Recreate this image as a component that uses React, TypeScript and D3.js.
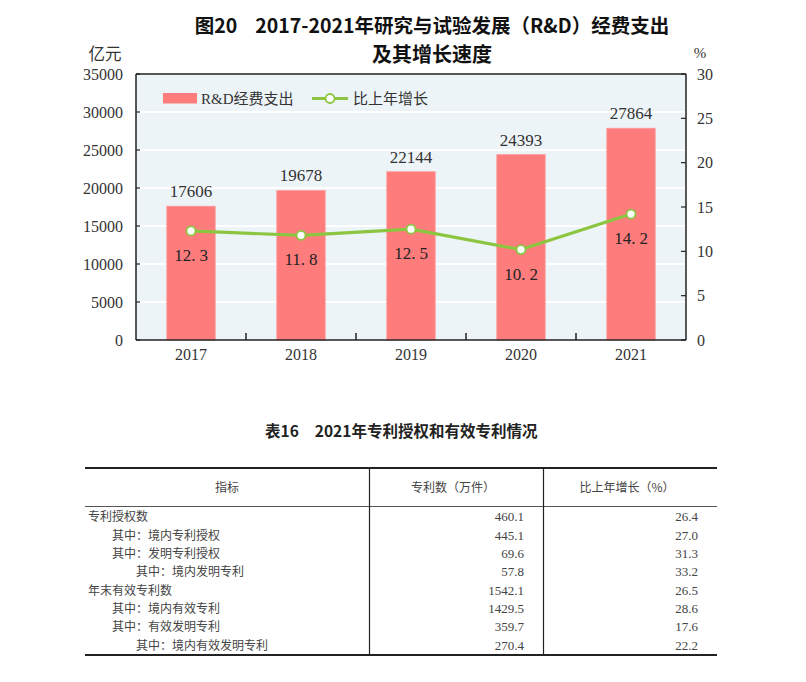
import React from 'react';
import * as d3 from 'd3';

const years = ['2017', '2018', '2019', '2020', '2021'];
const rdSpend = [17606, 19678, 22144, 24393, 27864];
const growth = [12.3, 11.8, 12.5, 10.2, 14.2];
const leftTicks = [0, 5000, 10000, 15000, 20000, 25000, 30000, 35000];
const rightTicks = [0, 5, 10, 15, 20, 25, 30];

const rowLabels = [
  '专利授权数',
  '其中：境内专利授权',
  '其中：发明专利授权',
  '其中：境内发明专利',
  '年末有效专利数',
  '其中：境内有效专利',
  '其中：有效发明专利',
  '其中：境内有效发明专利',
];
const rowLevels = [0, 1, 1, 2, 0, 1, 1, 2];
const patentCounts = [460.1, 445.1, 69.6, 57.8, 1542.1, 1429.5, 359.7, 270.4];
const patentGrowth = [26.4, 27.0, 31.3, 33.2, 26.5, 28.6, 17.6, 22.2];
const tableHeaders = ['指标', '专利数（万件）', '比上年增长（%）'];

const NUM_FONT = '"Liberation Serif", "Noto Sans CJK SC", serif';
const CJK_FONT = '"Noto Sans CJK SC", sans-serif';
const MIX_FONT = '"Liberation Serif", "Noto Sans CJK SC", serif';

export default function App() {
  const left = 136, right = 686, top = 74, bottom = 340;
  const x = d3.scaleBand<string>().domain(years).range([left, right]).padding(0);
  const yL = d3.scaleLinear().domain([0, 35000]).range([bottom, top]);
  const yR = d3.scaleLinear().domain([0, 30]).range([bottom, top]);
  const barW = x.step() * 0.44;
  const cx = (yr: string) => (x(yr) as number) + x.bandwidth() / 2;

  const line = d3
    .line<number>()
    .x((_, i) => cx(years[i]))
    .y((d) => yR(d));

  const green = '#8cc641';
  const barColor = '#ff7c7d';
  const axisColor = '#222';
  const textColor = '#333';

  // table geometry
  const tLeft = 85, tRight = 717;
  const col1 = 369.5, col2 = 543.5;
  const tTop = 468, headBottom = 506.5, tBottom = 655;
  const rowY = d3.scaleLinear().domain([0, rowLabels.length - 1]).range([516.7, 645]);

  return (
    <svg
      width={806}
      height={682}
      style={{ position: 'absolute', left: 0, top: 0, background: '#fff' }}
    >
      {/* Title */}
      <text x={432} y={33} textAnchor="middle" fontFamily={CJK_FONT} fontSize={19.5} fontWeight="bold" fill="#111">
        图20<tspan dx={18}>2017-2021年研究与试验发展（R&amp;D）经费支出</tspan>
      </text>
      <text x={432} y={62} textAnchor="middle" fontFamily={CJK_FONT} fontSize={20} fontWeight="bold" fill="#111">
        及其增长速度
      </text>
      <text x={105} y={60} textAnchor="middle" fontFamily={CJK_FONT} fontSize={16.5} fill={textColor}>
        亿元
      </text>
      <text x={700} y={58} textAnchor="middle" fontFamily={NUM_FONT} fontSize={15} fill={textColor}>
        %
      </text>

      {/* plot background */}
      <rect x={left} y={top} width={right - left} height={bottom - top} fill="#edf4f8" />
      {/* grid */}
      {leftTicks.slice(1, -1).map((t) => (
        <line key={'g' + t} x1={left} x2={right} y1={yL(t)} y2={yL(t)} stroke="#fff" strokeWidth={2} />
      ))}

      {/* bars */}
      {years.map((yr, i) => (
        <rect
          key={'b' + yr}
          x={cx(yr) - barW / 2}
          y={yL(rdSpend[i])}
          width={barW}
          height={bottom - yL(rdSpend[i])}
          fill={barColor}
          stroke="#ff9c9c"
          strokeWidth={0.8}
        />
      ))}
      {/* bar labels */}
      {years.map((yr, i) => (
        <text
          key={'bl' + yr}
          x={cx(yr)}
          y={yL(rdSpend[i]) - 9}
          textAnchor="middle"
          fontFamily={NUM_FONT}
          fontSize={17}
          fill={textColor}
        >
          {rdSpend[i]}
        </text>
      ))}

      {/* line */}
      <path d={line(growth) || ''} fill="none" stroke={green} strokeWidth={3.2} strokeLinejoin="round" />
      {growth.map((g, i) => (
        <circle key={'c' + i} cx={cx(years[i])} cy={yR(g)} r={4.5} fill="#fff" stroke={green} strokeWidth={1.8} />
      ))}
      {growth.map((g, i) => {
        const [a, b] = g.toFixed(1).split('.');
        return (
          <text
            key={'gl' + i}
            x={cx(years[i])}
            y={yR(g) + 30}
            textAnchor="middle"
            fontFamily={NUM_FONT}
            fontSize={17}
            fill="#222"
          >
            {a}.<tspan dx={4}>{b}</tspan>
          </text>
        );
      })}

      {/* frame / axes */}
      <line x1={left} x2={right} y1={top} y2={top} stroke={axisColor} strokeWidth={1.5} />
      <line x1={left} x2={right} y1={bottom} y2={bottom} stroke={axisColor} strokeWidth={1.5} />
      <line x1={left} x2={left} y1={top} y2={bottom} stroke={axisColor} strokeWidth={1.5} />
      <line x1={right} x2={right} y1={top} y2={bottom} stroke={axisColor} strokeWidth={1.5} />

      {/* left ticks */}
      {leftTicks.map((t) => (
        <g key={'lt' + t}>
          <line x1={left} x2={left + 4} y1={yL(t)} y2={yL(t)} stroke={axisColor} strokeWidth={1.2} />
          <text x={123} y={yL(t) + 5.5} textAnchor="end" fontFamily={NUM_FONT} fontSize={16} fill={textColor}>
            {t}
          </text>
        </g>
      ))}
      {/* right ticks */}
      {rightTicks.map((t) => (
        <g key={'rt' + t}>
          <line x1={right - 5} x2={right} y1={yR(t)} y2={yR(t)} stroke={axisColor} strokeWidth={1.2} />
          <text x={697} y={yR(t) + 5.5} textAnchor="start" fontFamily={NUM_FONT} fontSize={16} fill={textColor}>
            {t}
          </text>
        </g>
      ))}
      {/* bottom ticks at category boundaries */}
      {years.slice(1).map((yr) => (
        <line
          key={'bt' + yr}
          x1={x(yr) as number}
          x2={x(yr) as number}
          y1={bottom}
          y2={bottom - 7}
          stroke={axisColor}
          strokeWidth={1.5}
        />
      ))}
      {years.map((yr) => (
        <text key={'xl' + yr} x={cx(yr)} y={360} textAnchor="middle" fontFamily={NUM_FONT} fontSize={16} fill={textColor}>
          {yr}
        </text>
      ))}

      {/* legend */}
      <rect x={163} y={93} width={34} height={10.5} fill={barColor} />
      <text x={201} y={104} fontFamily={MIX_FONT} fontSize={15} fill={textColor}>
        R&amp;D经费支出
      </text>
      <line x1={312} x2={348} y1={98.5} y2={98.5} stroke={green} strokeWidth={3.2} />
      <circle cx={330} cy={98.5} r={4.5} fill="#fff" stroke={green} strokeWidth={1.8} />
      <text x={353} y={104} fontFamily={CJK_FONT} fontSize={15} fill={textColor}>
        比上年增长
      </text>

      {/* table title */}
      <text x={265} y={437} fontFamily={CJK_FONT} fontSize={15.5} fontWeight="bold" fill="#222">
        表16<tspan dx={16}>2021年专利授权和有效专利情况</tspan>
      </text>

      {/* table lines */}
      <line x1={tLeft} x2={tRight} y1={tTop} y2={tTop} stroke="#222" strokeWidth={2} />
      <line x1={tLeft} x2={tRight} y1={headBottom} y2={headBottom} stroke="#555" strokeWidth={1} />
      <line x1={tLeft} x2={tRight} y1={tBottom} y2={tBottom} stroke="#222" strokeWidth={2.2} />
      <line x1={col1} x2={col1} y1={tTop} y2={tBottom} stroke="#222" strokeWidth={1.2} />
      <line x1={col2} x2={col2} y1={tTop} y2={tBottom} stroke="#222" strokeWidth={1.2} />

      {/* headers */}
      {[227, 453, 627].map((hx, i) => (
        <text key={'h' + i} x={hx} y={491.5} textAnchor="middle" fontFamily={CJK_FONT} fontSize={12} fill="#444">
          {tableHeaders[i]}
        </text>
      ))}

      {/* rows */}
      {rowLabels.map((lab, i) => (
        <g key={'r' + i}>
          <text x={88 + rowLevels[i] * 24} y={rowY(i) + 4.5} fontFamily={CJK_FONT} fontSize={12} fill="#444">
            {lab}
          </text>
          <text x={524} y={rowY(i) + 4.5} textAnchor="end" fontFamily={NUM_FONT} fontSize={13} fill="#444">
            {patentCounts[i].toFixed(1)}
          </text>
          <text x={698} y={rowY(i) + 4.5} textAnchor="end" fontFamily={NUM_FONT} fontSize={13} fill="#444">
            {patentGrowth[i].toFixed(1)}
          </text>
        </g>
      ))}
    </svg>
  );
}
